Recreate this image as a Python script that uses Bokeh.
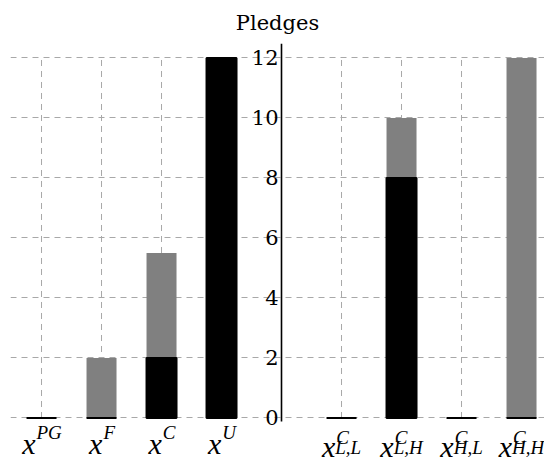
from bokeh.plotting import figure
from bokeh.models import Range1d, LinearAxis, FixedTicker, Label
from bokeh.embed import file_html
from bokeh.resources import INLINE

# Pledge components: black = committed part, gray = additional part
left_sup = ["PG", "F", "C", "U"]
left_black = [0, 0, 2, 12]
left_gray = [0, 2, 3.5, 0]

right_sup = ["C", "C", "C", "C"]
right_sub = ["L,L", "L,H", "H,L", "H,H"]
right_black = [0, 8, 0, 0]
right_gray = [0, 2, 0, 12]

y_ticks = [0, 2, 4, 6, 8, 10, 12]

# slot positions: left group, one empty slot for the axis, right group
left_pos = list(range(len(left_sup)))
axis_pos = len(left_sup)
right_pos = [axis_pos + 1 + i for i in range(len(right_sub))]

positions = left_pos + right_pos
black = left_black + right_black
gray = left_gray + right_gray
stack_top = [b + g for b, g in zip(black, gray)]

SERIF = "DejaVu Serif"
MATH = "Liberation Serif"

# the frame reaches down to the canvas edge so the category labels fit inside
p = figure(width=544, height=464, output_backend="svg", toolbar_location=None,
           x_range=Range1d(-0.517, 8.383), y_range=Range1d(-1.55, 12.48),
           title="Pledges", min_border_left=10, min_border_right=0,
           min_border_top=42, min_border_bottom=0)
p.background_fill_color = "white"
p.border_fill_color = "white"
p.outline_line_color = None

p.title.align = "center"
p.title.text_font = SERIF
p.title.text_font_style = "normal"
p.title.text_font_size = "21px"
p.title.text_color = "black"
p.title.standoff = 17

p.xaxis.visible = False
p.yaxis.visible = False
p.xgrid.visible = False

# horizontal dashed grid across the whole frame
p.ygrid.ticker = FixedTicker(ticks=y_ticks)
p.ygrid.grid_line_color = "#a8a8a8"
p.ygrid.grid_line_dash = "6 5"
p.ygrid.grid_line_width = 1

# vertical dashed guides at each bar, between 0 and the top tick
p.segment(x0=positions, x1=positions, y0=[y_ticks[0]] * len(positions),
          y1=[y_ticks[-1]] * len(positions), line_color="#a8a8a8",
          line_dash="6 5", line_width=1)

# stacked bars
p.vbar(x=positions, bottom=black, top=stack_top, width=0.5,
       fill_color="#808080", line_color=None)
p.vbar(x=positions, bottom=0, top=black, width=0.5,
       fill_color="black", line_color="black", line_width=2)

# shared value axis drawn between the two groups
yax = LinearAxis(fixed_location=axis_pos, ticker=FixedTicker(ticks=y_ticks),
                 bounds=(-0.12, 12.48))
yax.axis_line_color = "black"
yax.axis_line_width = 1.6
yax.major_tick_line_color = None
yax.minor_tick_line_color = None
yax.major_label_standoff = -3
yax.major_label_text_font = SERIF
yax.major_label_text_font_size = "21px"
yax.major_label_text_color = "black"
p.add_layout(yax, "left")

# category labels: italic x with superscript / subscript
BASE_SIZE = 30
SMALL_SIZE = 19
char_w = {"P": 0.611, "G": 0.722, "F": 0.611, "C": 0.667, "U": 0.722,
          "L": 0.556, "H": 0.722, ",": 0.25}


def text_width(s, size):
    return sum(char_w.get(c, 0.5) for c in s) * size


base_w = 0.444 * BASE_SIZE


def add_math_label(xpos, sup, sub, base_y, sup_y, sub_y):
    small_w = max(text_width(sup, SMALL_SIZE),
                  text_width(sub, SMALL_SIZE) if sub else 0)
    join = (base_w - small_w) / 2
    p.add_layout(Label(x=xpos, y=base_y, x_offset=join, text="x",
                       text_align="right", text_baseline="alphabetic",
                       text_font=MATH, text_font_style="italic",
                       text_font_size=f"{BASE_SIZE}px", text_color="black"))
    p.add_layout(Label(x=xpos, y=sup_y, x_offset=join + 1, text=sup,
                       text_align="left", text_baseline="alphabetic",
                       text_font=MATH, text_font_style="italic",
                       text_font_size=f"{SMALL_SIZE}px", text_color="black"))
    if sub:
        p.add_layout(Label(x=xpos, y=sub_y, x_offset=join, text=sub,
                           text_align="left", text_baseline="alphabetic",
                           text_font=MATH, text_font_style="italic",
                           text_font_size=f"{SMALL_SIZE}px", text_color="black"))


for xp, s in zip(left_pos, left_sup):
    add_math_label(xp, s, None, -0.84, -0.47, None)
for xp, s, sb in zip(right_pos, right_sup, right_sub):
    add_math_label(xp, s, sb, -0.94, -0.64, -1.0)

open("out.html", "w").write(file_html(p, INLINE))
